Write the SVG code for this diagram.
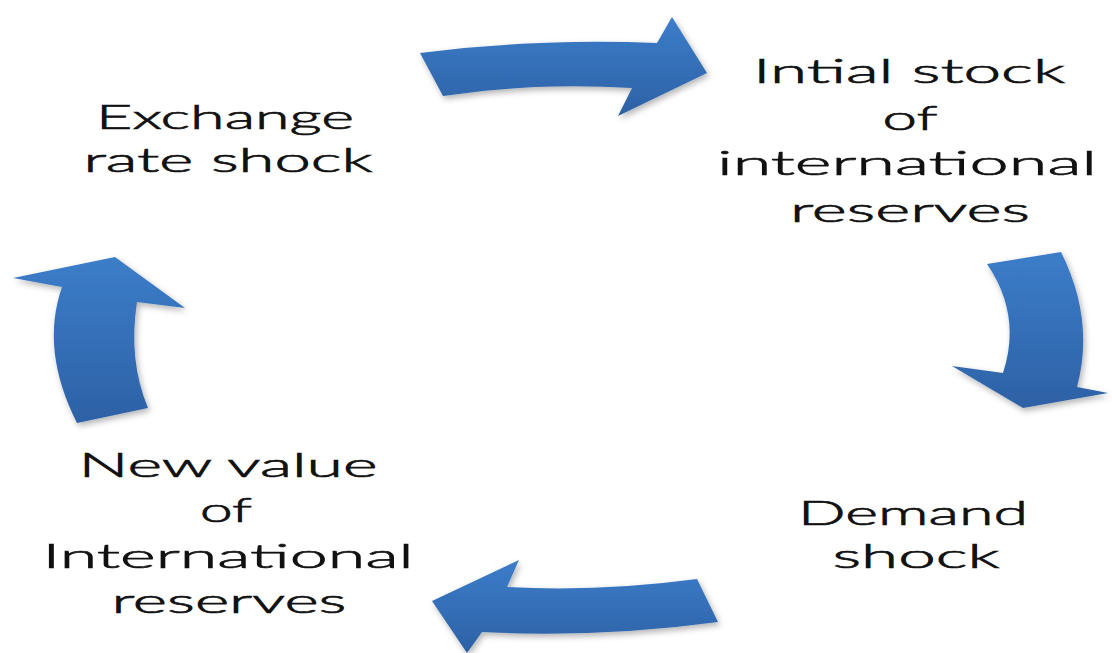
<svg xmlns="http://www.w3.org/2000/svg" width="1112" height="653" viewBox="0 0 1112 653">
  <defs>
    <linearGradient id="blue" x1="0" y1="0" x2="0" y2="1">
      <stop offset="0" stop-color="#3c7dca"/>
      <stop offset="1" stop-color="#2d61a5"/>
    </linearGradient>
    <filter id="shadow" x="-20%" y="-20%" width="140%" height="140%">
      <feDropShadow dx="2" dy="3" stdDeviation="3" flood-color="#000" flood-opacity="0.3"/>
    </filter>
  </defs>
  <style>
    .arrow { fill: url(#blue); filter: url(#shadow); }
    .label { font-family: Lato, "Liberation Sans", sans-serif; font-size: 34px; font-weight: 300; fill: #111; stroke: #111; stroke-width: 0.7px; text-anchor: middle; }
  </style>
  <rect width="1112" height="653" fill="#ffffff"/>

  <g id="connectors">
    <path class="arrow" d="M 420,53 Q 540,38 657,43 L 672,17 L 707,73 L 618,116 L 632,88 Q 535,82 443,96 Z"/>
    <path class="arrow" d="M 987,264 L 1061,252 Q 1095,320 1077,387 L 1108,393 L 1023,408 L 952,366 L 1003,373 Q 1022,315 987,264 Z"/>
    <path class="arrow" d="M 697,579 Q 600,592 507,587 L 519,560 L 432,601 L 467,653 L 482,632 Q 600,638 718,622 Z"/>
    <path class="arrow" d="M 77,423 Q 40,350 62,287 L 13,278 L 115,257 L 185,308 L 137,302 Q 128,360 148,408 Z"/>
  </g>

  <g id="node-exchange">
    <text class="label" x="225" y="129" textLength="258" lengthAdjust="spacingAndGlyphs">Exchange</text>
    <text class="label" x="228" y="172" textLength="289" lengthAdjust="spacingAndGlyphs">rate shock</text>
  </g>

  <g id="node-initial">
    <text class="label" x="909" y="83" textLength="312" lengthAdjust="spacingAndGlyphs">Intial stock</text>
    <text class="label" x="910" y="130" textLength="55" lengthAdjust="spacingAndGlyphs">of</text>
    <text class="label" x="907" y="175" textLength="380" lengthAdjust="spacingAndGlyphs">international</text>
    <text class="label" x="910" y="222" textLength="240" lengthAdjust="spacingAndGlyphs">reserves</text>
  </g>

  <g id="node-demand">
    <text class="label" x="913" y="525" textLength="230" lengthAdjust="spacingAndGlyphs">Demand</text>
    <text class="label" x="916" y="568" textLength="167" lengthAdjust="spacingAndGlyphs">shock</text>
  </g>

  <g id="node-new">
    <text class="label" x="228" y="477" textLength="299" lengthAdjust="spacingAndGlyphs">New value</text>
    <text class="label" x="226" y="522" textLength="52" lengthAdjust="spacingAndGlyphs">of</text>
    <text class="label" x="228" y="568" textLength="371" lengthAdjust="spacingAndGlyphs">International</text>
    <text class="label" x="229" y="613" textLength="235" lengthAdjust="spacingAndGlyphs">reserves</text>
  </g>
</svg>
